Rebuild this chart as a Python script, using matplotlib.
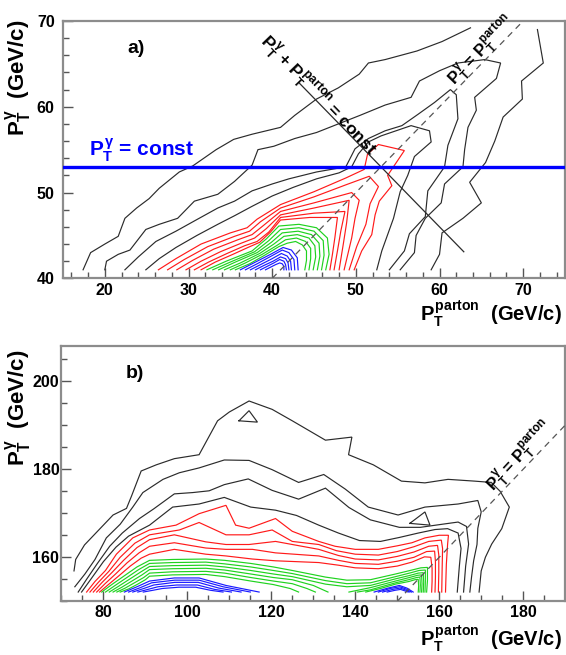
import matplotlib
matplotlib.use("Agg")
import matplotlib.pyplot as plt
from matplotlib.ticker import MultipleLocator

plt.rcParams['font.family'] = ['Liberation Sans', 'DejaVu Sans']
plt.rcParams['font.weight'] = 'bold'
plt.rcParams['mathtext.fontset'] = 'custom'
plt.rcParams['mathtext.rm'] = 'Liberation Sans:bold'
plt.rcParams['mathtext.it'] = 'Liberation Sans:bold'
plt.rcParams['mathtext.bf'] = 'Liberation Sans:bold'

# ---------------- panel a) : contour lines (pt_parton, pt_gamma) ----------------
a_black_lines = [
    [(17.4, 41.0), (18.3, 43.0), (20.0, 44.0), (21.6, 44.9), (22.4, 47.0), (23.8, 48.2), (25.3, 49.3),
     (26.5, 50.5), (28.9, 52.4), (30.5, 53.1), (33.3, 55.0), (35.4, 56.2), (37.6, 56.8), (39.3, 57.2),
     (41.0, 57.6), (42.7, 59.0), (45.3, 60.9), (47.9, 62.2), (50.4, 63.8), (51.5, 65.1), (53.5, 65.5),
     (57.3, 66.5), (60.3, 67.6), (63.7, 69.2)],
    [(71.7, 69.0), (72.4, 65.1), (69.8, 63.0), (69.9, 60.9), (67.6, 58.8), (66.6, 56.0), (65.5, 53.5),
     (63.6, 51.2), (65.0, 48.8), (62.8, 47.0), (60.3, 45.3), (60.0, 42.8), (59.0, 41.0)],
    [(20.0, 41.0), (20.2, 42.0), (21.6, 42.8), (23.0, 43.3), (24.9, 45.7), (26.5, 46.3), (28.7, 47.0),
     (30.7, 49.0), (33.5, 49.8), (35.5, 51.3), (37.6, 53.2), (38.3, 55.0), (40.2, 55.4), (42.7, 56.3),
     (45.3, 57.0), (47.9, 58.0), (50.5, 59.0), (53.5, 60.2), (56.6, 61.1), (57.6, 63.0), (60.0, 64.2),
     (62.2, 65.1), (65.4, 65.5), (67.3, 65.1), (66.8, 63.3), (64.2, 61.1), (64.4, 59.6), (63.4, 57.6),
     (63.0, 55.0), (62.8, 53.0), (60.6, 51.0), (60.2, 48.8), (58.3, 47.0), (57.2, 45.0), (57.0, 43.0),
     (55.3, 41.0)],
    [(22.4, 41.0), (24.0, 42.5), (26.1, 44.3), (28.5, 45.5), (30.9, 46.8), (33.5, 48.2), (35.5, 49.0),
     (37.6, 50.2), (40.0, 51.0), (42.0, 51.6), (45.3, 52.4), (48.8, 53.0), (49.9, 55.1), (51.5, 56.3),
     (53.5, 57.2), (55.5, 57.8), (57.4, 59.1), (59.4, 60.5), (61.3, 62.0), (62.0, 61.4), (62.2, 58.6),
     (61.0, 55.5), (60.6, 53.0), (58.6, 50.2), (58.3, 47.2), (56.4, 45.2), (55.8, 43.2), (54.0, 41.0)],
    [(24.9, 41.0), (26.5, 42.3), (28.5, 43.6), (31.0, 45.0), (33.5, 46.3), (35.5, 47.3), (37.6, 48.4),
     (40.0, 49.6), (42.5, 50.6), (45.3, 51.6), (48.0, 52.3), (49.5, 53.0), (50.3, 54.5), (51.5, 55.9),
     (53.0, 56.6), (54.8, 57.2), (56.6, 57.8), (58.8, 57.2), (59.0, 55.9), (57.0, 54.2), (56.2, 52.0),
     (55.3, 50.1), (54.5, 47.0), (53.1, 43.2), (52.5, 41.0)],
]

a_red_lines = [
    [(26.4, 41.0), (28.5, 42.3), (31.5, 44.0), (35.0, 45.3), (37.0, 45.9), (38.2, 46.9), (41.0, 48.6),
     (45.0, 50.1), (48.8, 51.7), (51.0, 52.7), (51.4, 54.5), (52.7, 55.6), (55.8, 54.9), (53.8, 52.0),
     (54.3, 50.8), (52.8, 49.0), (52.3, 47.4), (51.9, 45.1), (50.7, 43.2), (49.8, 41.0)],
    [(27.5, 41.0), (29.5, 42.2), (32.3, 43.7), (35.5, 44.9), (37.3, 45.5), (38.6, 46.6), (41.0, 48.2),
     (45.0, 49.5), (48.8, 50.9), (51.6, 51.9), (52.7, 50.7), (51.7, 48.7), (51.2, 46.3), (50.1, 43.7),
     (49.2, 41.0)],
    [(28.6, 41.0), (30.5, 42.1), (33.0, 43.4), (35.9, 44.5), (37.6, 45.1), (39.0, 46.2), (41.0, 47.8),
     (45.0, 48.8), (49.5, 50.0), (50.4, 49.1), (49.9, 47.0), (49.5, 44.7), (48.6, 41.0)],
    [(29.7, 41.0), (31.5, 42.0), (33.8, 43.1), (36.3, 44.1), (37.9, 44.7), (39.3, 45.8), (41.0, 47.4),
     (45.0, 48.2), (49.2, 49.1), (48.9, 46.5), (48.5, 44.0), (48.0, 41.0)],
    [(30.7, 41.0), (32.4, 41.9), (34.6, 42.9), (36.7, 43.8), (38.2, 44.3), (39.6, 45.4), (41.0, 47.1),
     (45.0, 47.6), (48.7, 47.8), (48.2, 45.5), (47.8, 43.2), (47.4, 41.0)],
    [(31.5, 41.0), (33.2, 41.9), (35.3, 42.8), (37.1, 43.6), (38.5, 44.2), (39.8, 45.4), (41.0, 46.8),
     (44.5, 47.1), (47.8, 47.1), (47.5, 44.8), (47.2, 42.8), (46.9, 41.0)],
]

a_green_lines = [
    [(32.2, 41.0), (34.5, 42.0), (37.6, 43.2), (39.3, 44.6), (40.8, 46.1), (43.2, 46.3), (45.3, 45.9),
     (46.6, 44.7), (46.8, 42.8), (46.4, 41.0)],
    [(32.9, 41.0), (35.0, 41.9), (37.9, 43.1), (39.6, 44.4), (41.0, 45.7), (43.2, 45.9), (45.0, 45.5),
     (46.1, 44.4), (46.2, 42.7), (45.9, 41.0)],
    [(33.6, 41.0), (35.6, 41.9), (38.2, 43.0), (39.9, 44.2), (41.2, 45.3), (43.1, 45.5), (44.7, 45.1),
     (45.6, 44.1), (45.7, 42.6), (45.4, 41.0)],
    [(34.3, 41.0), (36.2, 41.8), (38.5, 42.9), (40.2, 44.0), (41.4, 44.9), (43.0, 45.1), (44.4, 44.7),
     (45.1, 43.8), (45.2, 42.5), (44.9, 41.0)],
    [(35.0, 41.0), (36.8, 41.8), (38.8, 42.8), (40.5, 43.8), (41.6, 44.5), (42.9, 44.7), (44.0, 44.3),
     (44.6, 43.5), (44.6, 42.3), (44.4, 41.0)],
    [(35.6, 41.0), (37.3, 41.7), (39.1, 42.7), (40.8, 43.7), (41.8, 44.1), (42.8, 44.3), (43.6, 43.9),
     (44.1, 43.2), (44.1, 42.1), (43.9, 41.0)],
]

a_blue_lines = [
    [(36.2, 41.0), (37.8, 41.8), (39.8, 42.8), (41.3, 43.6), (42.3, 43.3), (43.0, 42.4), (43.1, 41.0)],
    [(36.8, 41.0), (38.2, 41.7), (39.9, 42.6), (41.2, 43.3), (42.0, 43.0), (42.6, 42.2), (42.7, 41.0)],
    [(37.4, 41.0), (38.6, 41.6), (40.0, 42.3), (41.1, 42.9), (41.8, 42.6), (42.2, 42.0), (42.3, 41.0)],
    [(38.0, 41.0), (39.0, 41.5), (40.1, 42.0), (41.0, 42.5), (41.6, 42.3), (41.9, 41.8), (42.0, 41.0)],
    [(38.6, 41.0), (39.4, 41.4), (40.2, 41.8), (40.9, 42.2), (41.4, 42.0), (41.6, 41.6), (41.7, 41.0)],
    [(39.2, 41.0), (39.8, 41.3), (40.4, 41.6), (40.9, 41.8), (41.2, 41.7), (41.4, 41.4), (41.4, 41.0)],
]

a_gamma_const = 53.0          # horizontal P_T^gamma = const line
a_sum_const = 106.0           # P_T^gamma + P_T^parton = const line
a_sum_x = [43.2, 62.9]
a_diag = [40.0, 70.0]         # P_T^gamma = P_T^parton

# ---------------- panel b) ----------------
b_black_lines = [
    [(73.0, 156.9), (73.4, 159.5), (75.5, 162.8), (78.5, 165.8), (82.3, 169.6), (85.5, 171.1), (86.7, 173.9),
     (89.0, 179.6), (92.6, 181.0), (96.9, 182.4), (102.8, 183.3), (107.2, 191.0), (110.0, 193.0),
     (114.7, 195.5), (120.2, 193.6), (125.0, 191.0), (132.9, 186.6), (139.2, 187.3), (138.4, 183.3),
     (144.3, 181.0), (151.0, 177.3), (156.6, 176.9), (162.1, 177.7), (168.4, 177.3), (172.4, 177.0),
     (174.5, 175.0), (176.7, 171.4), (174.9, 166.5), (172.5, 163.0), (171.0, 160.0), (170.0, 156.9),
     (169.5, 152.1)],
    [(112.3, 191.0), (114.7, 193.3), (116.7, 190.7), (112.3, 191.0)],
    [(73.2, 153.3), (75.6, 156.2), (78.0, 159.5), (80.7, 164.4), (84.0, 167.5), (87.0, 171.4), (89.4, 174.7),
     (94.2, 177.7), (98.1, 179.2), (102.8, 180.3), (108.8, 182.1), (114.7, 182.0), (120.2, 179.9),
     (126.5, 177.0), (132.5, 178.8), (137.6, 175.5), (143.1, 171.4), (150.2, 169.6), (156.6, 171.4),
     (164.5, 172.1), (169.2, 172.9), (170.0, 170.3), (169.2, 166.6), (169.0, 162.9), (168.2, 159.2),
     (167.7, 155.5), (167.3, 152.1)],
    [(153.0, 167.7), (156.6, 170.3), (157.8, 167.3), (153.0, 167.7)],
    [(74.0, 152.1), (76.0, 155.0), (78.5, 158.5), (81.5, 162.5), (84.5, 165.5), (88.6, 168.8), (92.0, 171.0),
     (96.9, 174.4), (101.3, 174.7), (105.2, 175.1), (108.8, 176.5), (114.5, 177.8), (120.2, 175.2),
     (126.5, 173.2), (132.9, 175.7), (138.5, 171.3), (143.6, 168.5), (150.5, 166.8), (155.5, 166.8),
     (160.7, 167.5), (164.5, 168.0), (166.5, 167.0), (167.0, 163.0), (166.3, 158.0), (165.8, 152.1)],
    [(74.8, 152.1), (77.0, 155.0), (80.0, 159.0), (83.0, 162.3), (86.0, 164.8), (91.0, 167.3), (96.5, 171.4),
     (102.8, 172.1), (108.8, 173.6), (115.1, 171.4), (121.0, 170.7), (126.0, 169.5), (131.3, 167.3),
     (136.0, 165.5), (141.0, 163.8), (146.0, 163.6), (150.5, 164.5), (155.0, 165.5), (159.0, 166.3),
     (162.0, 166.5), (164.5, 165.5), (165.2, 162.0), (164.8, 158.0), (164.3, 152.1)],
]

b_red_lines = [
    [(76.0, 152.1), (78.0, 154.5), (80.5, 157.0), (83.1, 160.7), (87.0, 164.4), (91.0, 166.2), (97.3, 167.3),
     (102.8, 169.9), (109.2, 171.8), (111.5, 167.3), (114.7, 166.6), (121.0, 168.8), (125.0, 165.9),
     (131.3, 163.6), (135.2, 162.5), (140.0, 161.8), (145.5, 161.8), (150.0, 162.6), (153.5, 163.3),
     (156.6, 164.4), (160.0, 165.0), (162.2, 165.0), (162.0, 163.0), (161.7, 158.4), (161.5, 152.1)],
    [(76.8, 152.1), (78.8, 154.3), (81.3, 156.8), (84.0, 160.0), (87.5, 163.2), (91.0, 165.1), (98.1, 166.2),
     (102.8, 167.9), (109.2, 165.1), (114.7, 165.1), (120.2, 166.2), (125.0, 163.6), (131.3, 162.9),
     (135.5, 161.5), (140.0, 160.7), (145.5, 160.5), (150.0, 161.3), (154.0, 162.4), (157.5, 163.6),
     (160.5, 163.9), (160.8, 162.0), (160.7, 157.5), (160.6, 152.1)],
    [(77.6, 152.1), (79.6, 154.2), (82.1, 156.6), (84.8, 159.3), (88.0, 162.2), (91.0, 164.0), (96.9, 165.1),
     (104.4, 163.5), (109.2, 162.9), (114.7, 162.9), (121.0, 163.6), (125.0, 162.9), (131.3, 161.8),
     (136.0, 160.4), (140.0, 159.6), (145.5, 159.4), (150.0, 160.2), (154.0, 161.2), (157.5, 162.5),
     (159.6, 162.7), (159.9, 160.5), (159.9, 156.5), (159.8, 152.1)],
    [(78.4, 152.1), (80.4, 154.0), (82.9, 156.2), (85.6, 158.7), (88.5, 161.0), (91.0, 162.5), (96.9, 163.3),
     (104.4, 162.1), (109.2, 161.8), (115.5, 161.8), (121.0, 161.0), (131.3, 160.3), (136.0, 159.3),
     (140.0, 158.6), (145.5, 158.4), (150.0, 159.1), (154.0, 160.0), (157.0, 161.3), (158.9, 161.4),
     (159.1, 159.0), (159.1, 155.5), (159.0, 152.1)],
    [(79.1, 152.1), (81.2, 153.8), (83.7, 155.8), (86.4, 158.0), (89.0, 159.8), (91.0, 160.7), (96.9, 161.8),
     (104.4, 160.7), (109.2, 160.3), (115.5, 159.6), (121.0, 159.2), (131.3, 158.8), (136.0, 158.2),
     (140.0, 157.6), (145.5, 157.4), (150.0, 158.0), (153.5, 158.9), (156.5, 160.1), (158.0, 160.0),
     (158.3, 157.5), (158.3, 154.5), (158.2, 152.1)],
]

b_green_lines = [
    [(79.6, 152.1), (82.0, 153.8), (85.0, 155.8), (88.0, 157.8), (91.0, 159.3), (96.5, 159.5), (104.4, 159.6),
     (108.9, 159.3), (115.1, 158.6), (120.5, 157.8), (125.0, 157.0), (132.9, 155.5), (138.0, 154.8),
     (143.6, 154.9), (149.6, 156.2), (153.5, 157.1), (155.6, 157.6), (157.2, 157.7), (157.2, 154.7),
     (157.0, 152.1)],
    [(80.5, 152.1), (82.8, 153.6), (85.6, 155.4), (88.4, 157.2), (91.0, 158.6), (96.5, 158.8), (104.4, 158.9),
     (108.9, 158.5), (115.1, 157.8), (120.5, 157.0), (125.0, 156.3), (132.9, 154.7), (138.0, 154.0),
     (143.6, 154.2), (149.6, 155.6), (153.3, 156.5), (155.2, 157.0), (156.7, 157.1), (156.7, 154.5),
     (156.6, 152.1)],
    [(81.4, 152.1), (83.6, 153.4), (86.2, 155.0), (88.8, 156.6), (91.0, 157.9), (96.5, 158.1), (104.4, 158.2),
     (108.9, 157.8), (115.1, 157.0), (120.5, 156.2), (125.0, 155.6), (132.9, 153.9), (138.0, 153.3),
     (143.6, 153.6), (149.6, 155.1), (153.1, 155.9), (155.0, 156.4), (156.2, 156.5), (156.3, 154.3),
     (156.2, 152.1)],
    [(82.3, 152.1), (84.4, 153.2), (86.8, 154.6), (89.2, 156.0), (91.0, 157.2), (96.5, 157.4), (104.4, 157.5),
     (108.9, 157.1), (115.1, 156.2), (120.5, 155.4), (125.0, 154.9), (130.0, 153.6), (133.5, 152.1)],
    [(138.5, 152.1), (143.6, 153.1), (149.6, 154.6), (152.9, 155.4), (154.8, 155.9), (155.8, 156.0),
     (155.9, 154.0), (155.8, 152.1)],
    [(83.2, 152.1), (85.2, 153.0), (87.4, 154.2), (89.6, 155.4), (91.0, 156.4), (96.5, 156.7), (104.4, 156.8),
     (108.9, 156.4), (115.1, 155.4), (120.5, 154.6), (125.0, 154.0), (128.5, 152.9), (130.5, 152.1)],
    [(140.5, 152.1), (143.6, 152.6), (149.6, 154.2), (152.7, 154.9), (154.6, 155.4), (155.4, 155.5),
     (155.5, 153.7), (155.4, 152.1)],
    [(84.0, 152.1), (86.0, 152.8), (88.0, 153.8), (90.0, 154.9), (91.0, 155.7), (96.5, 156.0), (104.4, 156.1),
     (108.9, 155.6), (115.1, 154.6), (120.5, 153.8), (124.5, 152.9), (126.5, 152.1)],
    [(142.5, 152.1), (146.0, 152.9), (149.6, 153.9), (152.8, 154.5), (154.2, 154.9), (155.0, 155.0),
     (155.1, 153.5), (155.0, 152.1)],
]

b_blue_lines = [
    [(85.0, 152.1), (88.0, 153.3), (91.0, 154.6), (96.9, 155.3), (102.8, 155.3), (109.2, 153.6), (117.1, 152.1)],
    [(86.0, 152.1), (88.8, 153.1), (91.5, 154.2), (97.0, 154.8), (102.8, 154.8), (108.5, 153.3), (115.0, 152.1)],
    [(87.0, 152.1), (89.6, 152.9), (92.0, 153.7), (97.0, 154.3), (102.6, 154.3), (107.5, 153.0), (112.8, 152.1)],
    [(88.2, 152.1), (90.6, 152.7), (93.0, 153.3), (97.5, 153.7), (102.4, 153.7), (106.5, 152.7), (110.5, 152.1)],
    [(89.5, 152.1), (91.8, 152.5), (94.0, 152.9), (98.0, 153.2), (102.0, 153.2), (105.5, 152.5), (108.5, 152.1)],
    [(144.5, 152.1), (147.8, 153.0), (150.5, 153.6), (152.3, 153.0), (153.8, 152.1)],
    [(145.5, 152.1), (148.3, 152.9), (150.6, 153.3), (152.1, 152.8), (153.4, 152.1)],
    [(146.5, 152.1), (148.9, 152.7), (150.7, 153.0), (151.9, 152.6), (153.0, 152.1)],
    [(147.6, 152.1), (149.5, 152.5), (150.8, 152.7), (151.7, 152.4), (152.6, 152.1)],
]

b_diag = [150.0, 190.0]

BLACK = '#2b2b2b'
RED = '#ff1a1a'
GREEN = '#1fd21f'
BLUE = '#1a1aff'
FRAME = '#8c8c8c'


def draw_lines(ax, lines, color, lw=0.85):
    for line in lines:
        xs, ys = zip(*line)
        ax.plot(xs, ys, color=color, lw=lw, solid_joinstyle='miter', zorder=2)


def style_axes(ax, xlim, ylim, xmaj, xmin, ymaj, ymin, ypad):
    ax.set_xlim(*xlim)
    ax.set_ylim(*ylim)
    ax.xaxis.set_major_locator(MultipleLocator(xmaj))
    ax.xaxis.set_minor_locator(MultipleLocator(xmin))
    ax.yaxis.set_major_locator(MultipleLocator(ymaj))
    ax.yaxis.set_minor_locator(MultipleLocator(ymin))
    ax.tick_params(which='both', direction='in', top=False, right=False,
                   color='#555555', width=1.0, labelsize=11.5)
    ax.tick_params(which='major', length=7)
    ax.tick_params(which='minor', length=4)
    ax.tick_params(axis='x', pad=3)
    ax.tick_params(axis='y', pad=ypad)
    for lab in ax.get_xticklabels() + ax.get_yticklabels():
        lab.set_fontweight('bold')
    for s in ax.spines.values():
        s.set_color(FRAME)
        s.set_linewidth(1.6)


fig = plt.figure(figsize=(5.66, 6.55), dpi=100, facecolor='white')

# panel a)
ax1 = fig.add_axes([0.1113, 0.575, 0.887, 0.393])
style_axes(ax1, (15, 75), (40, 70), 10, 2, 10, 2, ypad=6)
draw_lines(ax1, a_black_lines, BLACK)
draw_lines(ax1, a_red_lines, RED)
draw_lines(ax1, a_green_lines, GREEN)
draw_lines(ax1, a_blue_lines, BLUE)
ax1.plot(a_diag, a_diag, color='#555555', lw=0.9, ls=(0, (5, 4)), zorder=3)
ax1.plot(a_sum_x, [a_sum_const - x for x in a_sum_x], color=BLACK, lw=0.9, zorder=3)
ax1.axhline(a_gamma_const, color='#0000ff', lw=2.4, zorder=4)
ax1.text(23.7, 66.8, 'a)', fontsize=14, fontweight='bold', ha='center', va='center')
ax1.text(18.1, 54.2, r'$P_T^{\gamma}$ = const', color='#0000ff', fontsize=15,
         fontweight='bold', ha='left', va='baseline')
ax1.text(38.4, 67.6, r'$P_T^{\gamma}$ + $P_T^{parton}$ = const', fontsize=12.5,
         fontweight='bold', rotation=-46, rotation_mode='anchor', ha='left', va='baseline')
ax1.text(61.8, 62.4, r'$P_T^{\gamma}$ = $P_T^{parton}$', fontsize=12,
         fontweight='bold', rotation=46, rotation_mode='anchor', ha='left', va='baseline')

# panel b)
ax2 = fig.add_axes([0.1085, 0.082, 0.890, 0.3898])
style_axes(ax2, (70, 190), (150, 208), 20, 5, 20, 5, ypad=1.5)
draw_lines(ax2, b_black_lines, BLACK)
draw_lines(ax2, b_red_lines, RED)
draw_lines(ax2, b_green_lines, GREEN)
draw_lines(ax2, b_blue_lines, BLUE)
ax2.plot(b_diag, b_diag, color='#555555', lw=0.9, ls=(0, (5, 4)), zorder=3)
ax2.text(87.5, 201.8, 'b)', fontsize=14, fontweight='bold', ha='center', va='center')
ax2.text(173.0, 174.8, r'$P_T^{\gamma}$ = $P_T^{parton}$', fontsize=12,
         fontweight='bold', rotation=47, rotation_mode='anchor', ha='left', va='baseline')

# axis titles
for yc in (0.882, 0.378):
    fig.text(0.034, yc, r'$P_T^{\gamma}$  (GeV/c)', rotation=90, fontsize=16,
             fontweight='bold', ha='center', va='center')
for yb in (0.497, 0.002):
    fig.text(0.993, yb, r'$P_T^{parton}$  (GeV/c)', fontsize=14.5,
             fontweight='bold', ha='right', va='bottom')

fig.savefig('out.png', dpi=100, facecolor='white')
